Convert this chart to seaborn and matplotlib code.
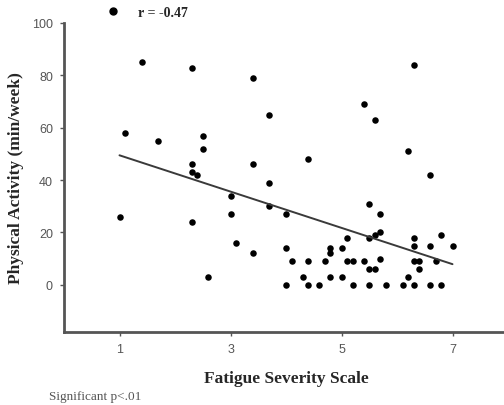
import numpy as np
import pandas as pd
import seaborn as sns
import matplotlib.pyplot as plt
from matplotlib.lines import Line2D

# values
fatigue = [1.4, 2.3, 3.4, 3.7, 1.1, 1.7, 2.5, 2.5, 6.3, 5.4,
           5.6, 4.4, 6.2, 2.3, 2.3, 2.4, 3.4, 3.7, 3.0, 3.7,
           1.0, 2.3, 3.0, 3.1, 3.4, 2.6, 6.6, 4.0, 5.5, 5.7,
           5.7, 5.6, 5.5, 5.1, 4.0, 4.1, 4.4, 4.7, 4.8, 4.8,
           5.0, 5.1, 5.2, 5.4, 5.7, 5.5, 5.6, 4.3, 4.8, 5.0,
           4.0, 4.4, 4.6, 5.2, 5.5, 5.8, 6.1, 6.3, 6.6, 6.8,
           6.3, 6.3, 6.6, 6.8, 7.0, 6.3, 6.4, 6.7, 6.4, 6.2]
activity = [85, 83, 79, 65, 58, 55, 57, 52, 84, 69,
            63, 48, 51, 46, 43, 42, 46, 39, 34, 30,
            26, 24, 27, 16, 12, 3, 42, 27, 31, 27,
            20, 19, 18, 18, 14, 9, 9, 9, 14, 12,
            14, 9, 9, 9, 10, 6, 6, 3, 3, 3,
            0, 0, 0, 0, 0, 0, 0, 0, 0, 0,
            18, 15, 15, 19, 15, 9, 9, 9, 6, 3]

x_ticks = [1, 3, 5, 7]
y_ticks = [0, 20, 40, 60, 80, 100]
r_label = "r = -0.47"
x_title = "Fatigue Severity Scale"
y_title = "Physical Activity (min/week)"
note = "Significant p<.01"

df = pd.DataFrame({"fatigue": fatigue, "activity": activity})

sns.set_style("white")
serif = ["Liberation Serif", "DejaVu Serif"]
sans = ["Liberation Sans", "DejaVu Sans"]

fig = plt.figure(figsize=(5.04, 4.06), dpi=100)
ax = fig.add_axes([64 / 504, 73 / 406, 444 / 504, 309 / 406])

sns.regplot(
    data=df, x="fatigue", y="activity", ci=None, ax=ax,
    scatter_kws=dict(s=22, color="black", linewidths=0, alpha=1),
    line_kws=dict(color="#3a3a3a", lw=1.4),
)

ax.set_xlim(0, 8)
ax.set_ylim(-18, 100)
ax.set_xticks(x_ticks)
ax.set_yticks(y_ticks)
sns.despine(ax=ax)
for side in ["left", "bottom"]:
    ax.spines[side].set_color("#555555")
    ax.spines[side].set_linewidth(2)

ax.tick_params(bottom=True, left=True, direction="out", length=3, width=1,
               color="#555555", labelcolor="#555555", labelsize=9, pad=5)
for lab in ax.get_xticklabels() + ax.get_yticklabels():
    lab.set_family(sans)

ax.set_xlabel(x_title, family=serif, fontsize=12.5, fontweight="bold", labelpad=11)
ax.set_ylabel(y_title, family=serif, fontsize=12.5, fontweight="bold", labelpad=6)

handle = Line2D([0], [0], marker="o", ls="", color="black", markersize=5)
ax.legend([handle], [r_label], loc="center left", frameon=False,
          bbox_to_anchor=(0.211, 0.966), bbox_transform=fig.transFigure,
          handlelength=1, handletextpad=1.3, borderpad=0, borderaxespad=0,
          prop=dict(family=serif, weight="bold", size=10))

fig.text(49 / 504, 1 - 397 / 406, note, family=serif, fontsize=9.5,
         color="#555555", va="center", ha="left")

fig.savefig("out.png", dpi=100)
